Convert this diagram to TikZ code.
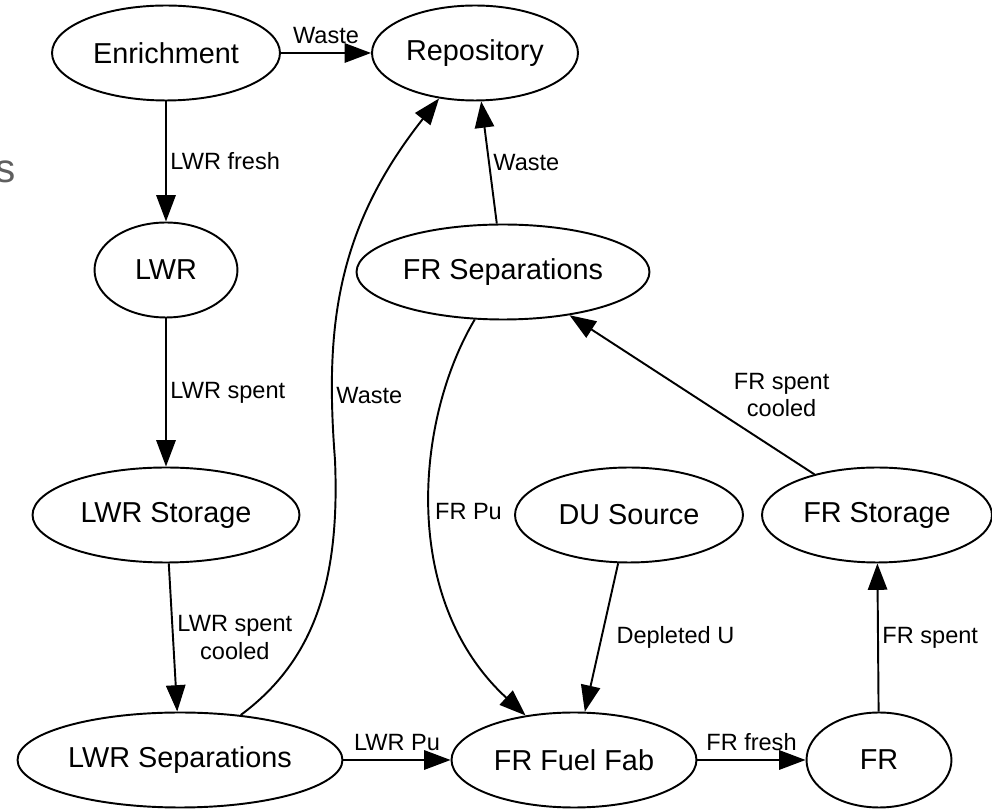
\documentclass[tikz,border=0pt]{standalone}
\usepackage{fontspec}
\setmainfont{Liberation Sans}
\usetikzlibrary{shapes.geometric,arrows.meta}

\definecolor{cutgray}{HTML}{5F5F5F}

\begin{document}
\begin{tikzpicture}[x=0.02cm,y=-0.02cm,
		fac/.style={ellipse, draw, line width=1.1pt, inner sep=0pt, minimum height=1.9cm, font=\fontsize{16.4}{19}\selectfont},
		arr/.style={line width=1.1pt, -{Triangle[length=15pt,width=11pt]}},
		lbl/.style={font=\fontsize{13.4}{15.4}\selectfont, inner sep=2pt, align=center}]
		% Parameters
		\def\rowa{53}
		\def\rowb{272}
		\def\rowc{515}
		\def\rowd{760}
		
		\useasboundingbox (0,0) rectangle (992,810);
		
		%cut-off text at the left edge
		\node[font=\fontsize{23}{25}\selectfont, text=cutgray, anchor=base east, inner sep=0pt] (cut) at (16,183) {s};
		
		%facilities
		\node[fac, minimum width=4.56cm] (enr) at (166,\rowa) {Enrichment};
		\node[fac, minimum width=4.12cm] (repo) at (475,\rowa) {Repository};
		\node[fac, minimum width=2.86cm] (lwr) at (166,270) {LWR};
		\node[fac, minimum width=5.86cm] (frsep) at (503,\rowb) {FR Separations};
		\node[fac, minimum width=5.34cm] (lwrsto) at (166,\rowc) {LWR Storage};
		\node[fac, minimum width=4.56cm] (du) at (629,\rowc) {DU Source};
		\node[fac, minimum width=4.6cm] (frsto) at (877,\rowc) {FR Storage};
		\node[fac, minimum width=6.5cm] (lwrsep) at (180,\rowd) {LWR Separations};
		\node[fac, minimum width=4.9cm] (fab) at (574,\rowd) {FR Fuel Fab};
		\node[fac, minimum width=2.9cm] (fr) at (879,\rowd) {FR};
		
		%LWR chain
		\draw[arr] (enr) -- node[lbl, above=3pt] {Waste} (repo);
		\draw[arr] (enr) -- node[lbl, right] {LWR fresh} (lwr);
		\draw[arr] (lwr) -- node[lbl, right] {LWR spent} (lwrsto);
		\draw[arr] (lwrsto) -- node[lbl, right] {LWR spent\\cooled} (lwrsep);
		\draw[arr] (lwrsep) .. controls (315,660) and (340,580) .. (335,460)
		.. controls (325,330) and (335,230) .. (repo) node[lbl, pos=0.17, right] {Waste};
		\draw[arr] (lwrsep) -- node[lbl, above=3pt] {LWR Pu} (fab);
		
		%FR chain
		\draw[arr] (frsep) -- node[lbl, right] {Waste} (repo);
		\draw[arr] (frsep) .. controls (415,420) and (400,600) .. (fab) node[lbl, pos=0.5, right] {FR Pu};
		\draw[arr] (du) -- node[lbl, right=6pt] {Depleted U} (fab);
		\draw[arr] (fab) -- node[lbl, above=3pt] {FR fresh} (fr);
		\draw[arr] (fr) -- node[lbl, right] {FR spent} (frsto);
		\draw[arr] (frsto) -- node[lbl, right=0.75cm] {FR spent\\cooled} (frsep);
\end{tikzpicture}
\end{document}
